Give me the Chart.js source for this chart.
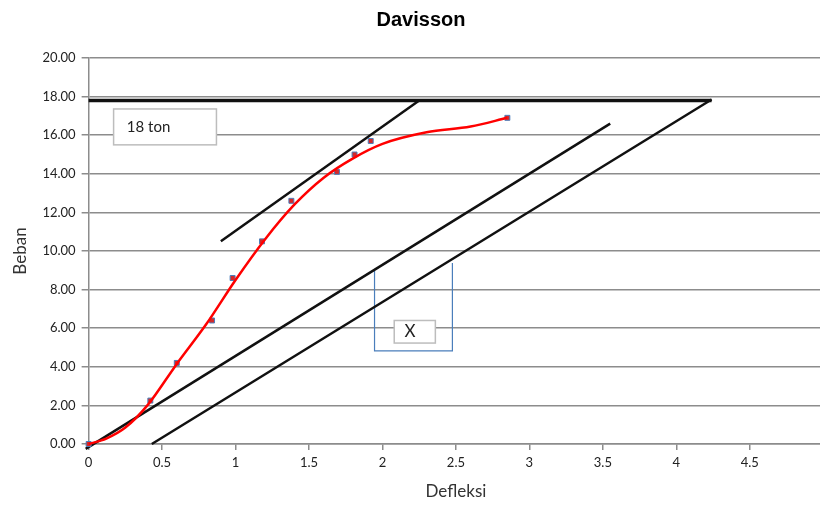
<!DOCTYPE html>
<html>
<head>
<meta charset="utf-8">
<script src="https://cdn.jsdelivr.net/npm/chart.js@4.4.1/dist/chart.umd.min.js"></script>
<style>
  html, body { margin: 0; padding: 0; background: #fff; overflow: hidden; }
  #wrap { width: 820px; height: 505px; overflow: hidden; }
</style>
</head>
<body>
<div id="wrap"><canvas id="canvas" width="832" height="505"></canvas></div>
<script>
// measured load test points
const deflection = [0, 0.42, 0.6, 0.84, 0.98, 1.18, 1.38, 1.69, 1.81, 1.92, 2.85];
const load = [0, 2.25, 4.2, 6.4, 8.6, 10.5, 12.6, 14.1, 15.0, 15.7, 16.9];

// red trend curve
const trendX = [0, 0.12, 0.25, 0.4, 0.6, 0.8, 1.0, 1.2, 1.4, 1.6, 1.8, 2.0, 2.3, 2.6, 2.85];
const trendY = [0, 0.28, 0.85, 2.0, 4.15, 6.2, 8.5, 10.6, 12.4, 13.8, 14.8, 15.55, 16.15, 16.45, 16.9];

// construction lines (Davisson method)
const limitX = [0, 4.24];        // failure load line
const limitY = [17.8, 17.8];
const tangentX = [0.9, 2.25];
const tangentY = [10.5, 17.8];
const elasticX = [-0.02, 3.55];
const elasticY = [-0.25, 16.6];
const offsetX = [0.43, 4.24];
const offsetY = [0, 17.85];
const bracketX = [1.946, 1.946, 2.476, 2.476];
const bracketY = [8.96, 4.82, 4.82, 9.38];

const xTicks = [0, 0.5, 1, 1.5, 2, 2.5, 3, 3.5, 4, 4.5, 5];
const yTicks = [0, 2, 4, 6, 8, 10, 12, 14, 16, 18, 20];

function pts(xs, ys) {
  return xs.map((x, i) => ({ x: x, y: ys[i] }));
}

function lineSet(xs, ys, color, width) {
  return {
    data: pts(xs, ys),
    showLine: true,
    borderColor: color,
    borderWidth: width,
    pointRadius: 0,
    clip: false,
    order: 3
  };
}

// text boxes "18 ton" and "X", placed in data units
const boxes = [
  { text: '18 ton', x0: 0.17, x1: 0.87, y0: 17.36, y1: 15.5, font: '15px Lato', tx: 0.26 },
  { text: 'X', x0: 2.08, x1: 2.36, y0: 6.4, y1: 5.23, font: '17px Lato', tx: 2.15 }
];

const boxPlugin = {
  id: 'boxes',
  afterDatasetsDraw(chart) {
    const ctx = chart.ctx;
    const xs = chart.scales.x, ys = chart.scales.y;
    ctx.save();
    boxes.forEach(b => {
      const l = xs.getPixelForValue(b.x0), r = xs.getPixelForValue(b.x1);
      const t = ys.getPixelForValue(b.y0), btm = ys.getPixelForValue(b.y1);
      ctx.fillStyle = '#fff';
      ctx.fillRect(l, t, r - l, btm - t);
      ctx.strokeStyle = '#bdbdbd';
      ctx.lineWidth = 1.5;
      ctx.strokeRect(l, t, r - l, btm - t);
      ctx.fillStyle = '#222';
      ctx.font = b.font;
      ctx.textBaseline = 'middle';
      ctx.fillText(b.text, xs.getPixelForValue(b.tx), (t + btm) / 2);
    });
    ctx.restore();
  }
};

const config = {
  type: 'scatter',
  data: {
    datasets: [
      lineSet(limitX, limitY, '#111', 3.5),
      lineSet(tangentX, tangentY, '#111', 2.5),
      lineSet(elasticX, elasticY, '#111', 2.5),
      lineSet(offsetX, offsetY, '#111', 2.5),
      lineSet(bracketX, bracketY, '#4a7ebb', 1.2),
      {
        data: pts(trendX, trendY),
        showLine: true,
        borderColor: '#ff0000',
        borderWidth: 2.5,
        pointRadius: 0,
        cubicInterpolationMode: 'monotone',
        clip: false,
        order: 1
      },
      {
        data: pts(deflection, load),
        showLine: false,
        pointStyle: 'rect',
        pointRadius: 3.5,
        backgroundColor: '#d42a2a',
        borderColor: '#4a7ebb',
        borderWidth: 1,
        clip: false,
        order: 2
      }
    ]
  },
  options: {
    responsive: false,
    animation: false,
    layout: { padding: { left: 10, right: 0, top: 0, bottom: 3 } },
    plugins: {
      legend: { display: false },
      tooltip: { enabled: false },
      title: {
        display: true,
        text: 'Davisson',
        color: '#000',
        font: { family: 'Liberation Sans', size: 20, weight: 'bold' },
        padding: { top: 8, bottom: 26 }
      }
    },
    scales: {
      x: {
        type: 'linear',
        min: 0,
        max: 5,
        afterBuildTicks(axis) { axis.ticks = xTicks.map(v => ({ value: v })); },
        ticks: {
          color: '#222',
          font: { family: 'Lato', size: 13 },
          padding: 5,
          maxRotation: 0,
          callback: v => String(v)
        },
        grid: { drawOnChartArea: false, drawTicks: true, tickLength: 6, color: '#8c8c8c', lineWidth: 1.5 },
        border: { color: '#8c8c8c', width: 1.5 },
        title: {
          display: true,
          text: 'Defleksi',
          color: '#333',
          font: { family: 'Lato', size: 17 },
          padding: { top: 6, bottom: 0 }
        }
      },
      y: {
        type: 'linear',
        min: 0,
        max: 20,
        afterBuildTicks(axis) { axis.ticks = yTicks.map(v => ({ value: v })); },
        ticks: {
          color: '#222',
          font: { family: 'Lato', size: 13 },
          padding: 6,
          callback: v => v.toFixed(2)
        },
        grid: { color: '#8c8c8c', lineWidth: 1.5, drawTicks: true, tickLength: 7 },
        border: { color: '#8c8c8c', width: 1.5 },
        title: {
          display: true,
          text: 'Beban',
          color: '#333',
          font: { family: 'Lato', size: 17 },
          padding: { top: 0, bottom: 6 }
        }
      }
    }
  },
  plugins: [boxPlugin]
};

window.myChart = new Chart(document.getElementById('canvas'), config);
</script>
</body>
</html>
